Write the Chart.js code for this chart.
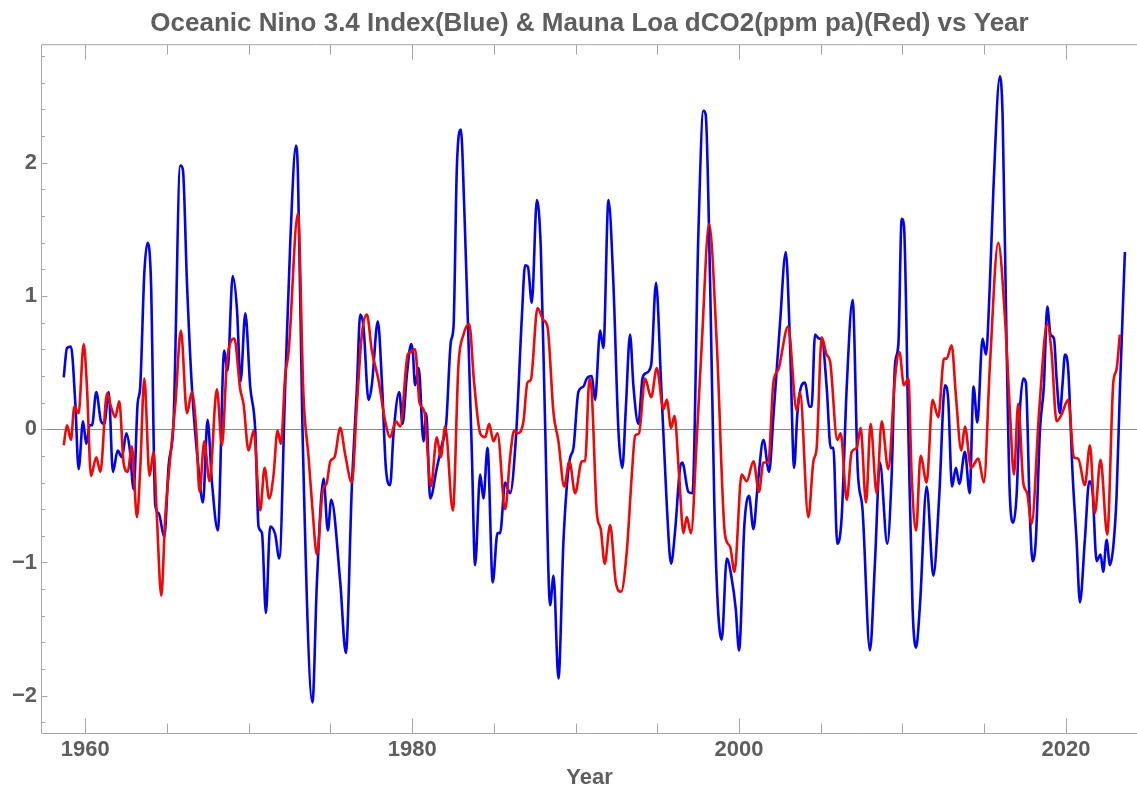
<!DOCTYPE html>
<html>
<head>
<meta charset="utf-8">
<script src="https://cdn.jsdelivr.net/npm/chart.js@4.4.0/dist/chart.umd.min.js"></script>
<style>
  html, body { margin: 0; padding: 0; background: #fff; }
</style>
</head>
<body>
<canvas id="ninoChart" width="1137" height="789"></canvas>
<script>
// Oceanic Nino 3.4 index (blue), turning points
const oniYears = [
  1958.68, 1958.88, 1959.12, 1959.39, 1959.59, 1959.86, 1960.06, 1960.27, 1960.41, 1960.67,
  1960.96, 1961.16, 1961.43, 1961.69, 1961.98, 1962.24, 1962.51, 1962.71, 1962.96, 1963.20,
  1963.36, 1963.61, 1963.81, 1964.02, 1964.28, 1964.49, 1964.83, 1965.10, 1965.40, 1965.81,
  1965.97, 1966.22, 1966.52, 1966.93, 1967.20, 1967.48, 1967.75, 1968.11, 1968.50, 1968.70,
  1969.02, 1969.28, 1969.50, 1969.79, 1970.09, 1970.40, 1970.60, 1970.81, 1971.05, 1971.31,
  1971.62, 1971.87, 1972.23, 1972.54, 1972.89, 1973.01, 1973.29, 1973.90, 1974.17, 1974.58,
  1974.84, 1975.05, 1975.60, 1975.94, 1976.31, 1976.62, 1976.82, 1977.02, 1977.33, 1977.53,
  1977.90, 1978.15, 1978.39, 1978.65, 1978.86, 1979.21, 1979.41, 1979.67, 1979.94, 1980.04,
  1980.18, 1980.40, 1980.69, 1980.86, 1981.10, 1981.51, 1981.81, 1982.08, 1982.37, 1982.53,
  1982.73, 1982.98, 1983.18, 1983.45, 1983.65, 1983.85, 1984.16, 1984.36, 1984.61, 1984.93,
  1985.22, 1985.38, 1985.69, 1985.99, 1986.36, 1986.71, 1986.91, 1987.08, 1987.32, 1987.63,
  1987.87, 1988.13, 1988.44, 1988.65, 1988.95, 1989.26, 1989.62, 1989.87, 1990.17, 1990.48,
  1990.68, 1990.99, 1991.19, 1991.50, 1991.70, 1992.01, 1992.31, 1992.62, 1992.86, 1993.07,
  1993.33, 1993.54, 1993.84, 1994.09, 1994.29, 1994.62, 1994.92, 1995.23, 1995.58, 1995.84,
  1996.09, 1996.39, 1996.53, 1996.90, 1997.15, 1997.51, 1997.82, 1997.96, 1998.23, 1998.49,
  1998.70, 1998.94, 1999.25, 1999.55, 1999.80, 2000.00, 2000.33, 2000.61, 2000.88, 2001.14,
  2001.49, 2001.84, 2002.10, 2002.51, 2002.86, 2003.12, 2003.37, 2003.57, 2003.83, 2004.04,
  2004.30, 2004.44, 2004.65, 2004.91, 2005.06, 2005.36, 2005.61, 2005.77, 2006.01, 2006.28,
  2006.59, 2006.95, 2007.26, 2007.56, 2008.01, 2008.32, 2008.62, 2009.07, 2009.34, 2009.54,
  2009.75, 2009.95, 2010.09, 2010.36, 2010.62, 2010.83, 2011.07, 2011.48, 2011.89, 2012.25,
  2012.60, 2012.80, 2013.03, 2013.27, 2013.48, 2013.82, 2014.11, 2014.35, 2014.58, 2014.90,
  2015.11, 2015.35, 2015.56, 2015.96, 2016.13, 2016.37, 2016.57, 2016.78, 2016.98, 2017.19,
  2017.39, 2017.55, 2017.80, 2017.96, 2018.16, 2018.41, 2018.65, 2018.86, 2019.06, 2019.27,
  2019.43, 2019.63, 2019.80, 2019.94, 2020.14, 2020.41, 2020.65, 2020.86, 2021.16, 2021.43,
  2021.63, 2021.88, 2022.12, 2022.28, 2022.49, 2022.69, 2022.90, 2023.10, 2023.30, 2023.61
];
const oniValues = [
  0.39, 0.61, 0.62, 0.19, -0.30, 0.06, -0.11, 0.03, 0.03, 0.28,
  0.06, 0.04, 0.28, -0.32, -0.16, -0.21, -0.03, -0.14, -0.45, 0.19,
  0.32, 1.17, 1.40, 1.10, -0.57, -0.63, -0.81, -0.27, 0.06, 1.98,
  1.95, 1.10, 0.32, -0.30, -0.55, 0.07, -0.40, -0.76, 0.59, 0.44,
  1.15, 0.90, 0.36, 0.87, 0.32, -0.01, -0.73, -0.78, -1.38, -0.73,
  -0.79, -0.97, 0.32, 1.40, 2.13, 1.92, -0.01, -2.05, -1.15, -0.37,
  -0.76, -0.53, -1.15, -1.68, -0.43, 0.32, 0.86, 0.77, 0.22, 0.33,
  0.81, 0.35, -0.29, -0.42, -0.03, 0.28, 0.04, 0.40, 0.64, 0.58,
  0.33, 0.46, -0.09, 0.12, -0.52, -0.29, -0.12, 0.04, 0.66, 0.77,
  1.95, 2.25, 1.69, 0.64, -0.17, -1.02, -0.34, -0.52, -0.14, -1.15,
  -0.78, -0.78, -0.40, -0.48, -0.04, 0.84, 1.23, 1.22, 0.95, 1.72,
  1.36, 0.06, -1.32, -1.10, -1.87, -0.83, -0.24, -0.14, 0.28, 0.32,
  0.38, 0.40, 0.22, 0.74, 0.61, 1.72, 1.10, -0.01, -0.29, 0.15,
  0.71, 0.32, 0.04, 0.38, 0.42, 0.48, 1.10, 0.35, -0.57, -1.01,
  -0.76, -0.29, -0.25, -0.47, -0.48, 1.46, 2.39, 2.36, 1.10, -0.57,
  -1.32, -1.58, -0.97, -1.12, -1.35, -1.66, -0.71, -0.50, -0.75, -0.42,
  -0.08, -0.32, 0.09, 0.80, 1.33, 0.64, -0.29, 0.12, 0.33, 0.35,
  0.17, 0.17, 0.71, 0.68, 0.68, 0.32, -0.14, -0.14, -0.86, -0.66,
  0.32, 0.97, -0.30, -0.61, -1.66, -0.99, -0.25, -0.86, -0.34, 0.48,
  0.64, 1.58, 1.53, -0.01, -1.35, -1.64, -1.32, -0.43, -1.10, -0.50,
  0.33, 0.22, -0.43, -0.29, -0.41, -0.17, -0.48, 0.32, 0.05, 0.68,
  0.56, 1.10, 1.79, 2.65, 2.34, 0.64, -0.50, -0.70, -0.50, 0.15,
  0.38, 0.35, -0.66, -0.99, -0.83, -0.01, 0.32, 0.92, 0.71, 0.68,
  0.38, 0.12, 0.35, 0.56, 0.45, -0.34, -0.83, -1.30, -0.83, -0.39,
  -0.47, -0.99, -0.94, -1.07, -0.83, -1.02, -0.88, -0.50, 0.28, 1.33
];

// Mauna Loa dCO2 in ppm per year (red), turning points
const co2Years = [
  1958.68, 1958.88, 1959.12, 1959.33, 1959.59, 1959.90, 1960.10, 1960.35, 1960.67, 1960.92,
  1961.33, 1961.57, 1961.83, 1962.08, 1962.34, 1962.59, 1962.85, 1963.16, 1963.36, 1963.61,
  1963.93, 1964.18, 1964.38, 1964.65, 1964.89, 1965.20, 1965.51, 1965.85, 1966.22, 1966.52,
  1966.79, 1966.99, 1967.28, 1967.60, 1968.05, 1968.36, 1968.67, 1969.12, 1969.48, 1969.68,
  1969.99, 1970.30, 1970.70, 1970.97, 1971.25, 1971.52, 1971.76, 1971.97, 1972.23, 1972.44,
  1973.01, 1973.35, 1973.66, 1973.90, 1974.17, 1974.52, 1974.78, 1974.99, 1975.25, 1975.60,
  1975.90, 1976.31, 1976.62, 1976.92, 1977.23, 1977.53, 1977.94, 1978.35, 1978.65, 1979.00,
  1979.27, 1979.73, 1979.94, 1980.18, 1980.45, 1980.75, 1981.14, 1981.51, 1981.75, 1982.02,
  1982.49, 1982.83, 1983.14, 1983.49, 1983.79, 1984.16, 1984.47, 1984.71, 1984.97, 1985.22,
  1985.69, 1985.99, 1986.24, 1986.44, 1986.81, 1987.05, 1987.26, 1987.67, 1988.03, 1988.28,
  1988.65, 1988.95, 1989.30, 1989.62, 1989.97, 1990.38, 1990.58, 1990.85, 1990.99, 1991.30,
  1991.54, 1991.78, 1992.11, 1992.46, 1992.78, 1993.13, 1993.44, 1993.64, 1993.88, 1994.25,
  1994.62, 1994.97, 1995.37, 1995.58, 1995.84, 1996.05, 1996.33, 1996.60, 1996.80, 1997.06,
  1997.41, 1997.72, 1998.17, 1998.64, 1999.14, 1999.45, 1999.72, 2000.16, 2000.47, 2000.88,
  2001.22, 2001.49, 2001.79, 2002.10, 2002.41, 2003.00, 2003.53, 2003.73, 2004.24, 2004.55,
  2004.75, 2005.06, 2005.36, 2005.57, 2006.01, 2006.22, 2006.59, 2006.89, 2007.20, 2007.44,
  2007.77, 2008.05, 2008.42, 2008.73, 2009.13, 2009.54, 2009.81, 2010.09, 2010.36, 2010.56,
  2010.83, 2011.11, 2011.48, 2011.84, 2012.19, 2012.54, 2012.70, 2013.01, 2013.27, 2013.60,
  2013.82, 2014.20, 2014.64, 2014.98, 2015.35, 2015.86, 2016.27, 2016.58, 2016.82, 2017.08,
  2017.39, 2017.63, 2017.90, 2018.37, 2018.86, 2019.12, 2019.43, 2019.73, 2020.14, 2020.49,
  2020.75, 2021.16, 2021.47, 2021.77, 2022.12, 2022.53, 2022.90, 2023.10, 2023.30
];
const co2Values = [
  -0.12, 0.03, -0.08, 0.17, 0.12, 0.64, 0.32, -0.35, -0.21, -0.32,
  0.27, 0.17, 0.09, 0.21, -0.25, -0.32, -0.13, -0.66, -0.30, 0.38,
  -0.35, -0.17, -0.66, -1.25, -0.66, -0.21, 0.19, 0.74, 0.12, 0.28,
  -0.01, -0.47, -0.09, -0.39, 0.30, -0.12, 0.51, 0.68, 0.30, 0.19,
  -0.16, -0.01, -0.61, -0.29, -0.52, -0.34, -0.01, -0.11, 0.40, 0.58,
  1.62, 0.25, -0.21, -0.60, -0.94, -0.47, -0.40, -0.24, -0.21, 0.01,
  -0.19, -0.40, 0.19, 0.71, 0.86, 0.59, 0.37, 0.06, -0.06, 0.06,
  0.02, 0.56, 0.58, 0.60, 0.20, 0.13, -0.43, -0.06, -0.21, 0.02,
  -0.61, 0.48, 0.71, 0.79, 0.35, -0.03, -0.06, 0.04, -0.09, -0.03,
  -0.60, -0.21, -0.01, -0.03, 0.06, 0.35, 0.37, 0.91, 0.82, 0.77,
  0.12, -0.09, -0.43, -0.24, -0.48, -0.24, -0.24, 0.38, 0.27, -0.63,
  -0.75, -1.01, -0.72, -1.15, -1.22, -0.92, -0.34, -0.05, -0.03, 0.38,
  0.24, 0.46, 0.15, 0.22, 0.01, 0.10, -0.34, -0.78, -0.66, -0.78,
  -0.08, 0.64, 1.54, 0.64, -0.79, -0.88, -1.07, -0.34, -0.39, -0.24,
  -0.47, -0.25, -0.25, 0.35, 0.45, 0.77, 0.14, 0.28, -0.66, -0.24,
  -0.14, 0.69, 0.56, 0.51, -0.08, -0.03, -0.53, -0.17, -0.14, 0.01,
  -0.55, 0.04, -0.48, 0.06, -0.30, 0.38, 0.58, 0.33, 0.38, -0.34,
  -0.76, -0.20, -0.40, 0.22, 0.09, 0.53, 0.53, 0.63, 0.25, -0.16,
  0.02, -0.29, -0.22, -0.40, 0.48, 1.40, 0.84, 0.12, -0.34, 0.19,
  -0.40, -0.48, -0.71, 0.15, 0.79, 0.58, 0.06, 0.11, 0.22, -0.21,
  -0.22, -0.42, -0.12, -0.63, -0.23, -0.79, 0.35, 0.45, 0.71
];

const xTicks = [1960, 1980, 2000, 2020];
const xMinorTicks = [1960, 1965, 1970, 1975, 1980, 1985, 1990, 1995, 2000, 2005, 2010, 2015, 2020];
const yTicks = [-2, -1, 0, 1, 2];

const FONT = '"Liberation Sans", Arial, sans-serif';
const TEXT_GREY = '#5e5e5e';
const FRAME_GREY = '#a6a6a6';

// Mathematica style frame: inward ticks, no grid, axis line at zero
const framePlugin = {
  id: 'frame',
  beforeDatasetsDraw(chart) {
    const { ctx, chartArea: a, scales: { y } } = chart;
    const y0 = Math.round(y.getPixelForValue(0)) + 0.5;
    ctx.save();
    ctx.strokeStyle = '#8c8c8c';
    ctx.lineWidth = 1;
    ctx.beginPath();
    ctx.moveTo(a.left, y0);
    ctx.lineTo(a.right, y0);
    ctx.stroke();
    ctx.restore();
  },
  afterDatasetsDraw(chart) {
    const { ctx, chartArea: a, scales: { x, y } } = chart;
    const L = a.left - 0.5, T = a.top + 0.5, B = a.bottom + 0.5;
    ctx.save();
    ctx.strokeStyle = FRAME_GREY;
    ctx.lineWidth = 1;
    ctx.beginPath();
    ctx.moveTo(a.right, T);
    ctx.lineTo(L, T);
    ctx.lineTo(L, B);
    ctx.lineTo(a.right, B);

    xMinorTicks.forEach(v => {
      const px = Math.round(x.getPixelForValue(v)) + 0.5;
      const len = xTicks.includes(v) ? 15 : 10;
      ctx.moveTo(px, B); ctx.lineTo(px, B - len);
      ctx.moveTo(px, T); ctx.lineTo(px, T + len);
    });

    for (let k = -11; k <= 14; k++) {
      const v = k / 5;
      const py = Math.round(y.getPixelForValue(v)) + 0.5;
      const len = k % 5 === 0 ? 6 : 3.5;
      ctx.moveTo(L, py); ctx.lineTo(L + len, py);
    }
    ctx.stroke();
    ctx.restore();
  }
};

const ctx = document.getElementById('ninoChart').getContext('2d');

new Chart(ctx, {
  type: 'line',
  data: {
    datasets: [
      {
        label: 'Mauna Loa dCO2',
        data: co2Years.map((yr, i) => ({ x: yr, y: co2Values[i] })),
        borderColor: 'rgb(238, 8, 8)',
        borderWidth: 2.6,
        pointRadius: 0,
        cubicInterpolationMode: 'monotone',
        order: 0
      },
      {
        label: 'Oceanic Nino 3.4',
        data: oniYears.map((yr, i) => ({ x: yr, y: oniValues[i] })),
        borderColor: 'rgb(4, 4, 232)',
        borderWidth: 2.6,
        pointRadius: 0,
        cubicInterpolationMode: 'monotone',
        order: 1
      }
    ]
  },
  options: {
    responsive: false,
    animation: false,
    devicePixelRatio: 1,
    layout: { padding: 0 },
    plugins: {
      legend: { display: false },
      tooltip: { enabled: false },
      title: {
        display: true,
        fullSize: false,
        text: 'Oceanic Nino 3.4 Index(Blue) & Mauna Loa dCO2(ppm pa)(Red) vs Year',
        color: TEXT_GREY,
        font: { family: FONT, size: 26, weight: 'bold', lineHeight: 1.2 },
        padding: { top: 8, bottom: 5 }
      }
    },
    scales: {
      x: {
        type: 'linear',
        min: 1957.35,
        max: 2024.35,
        grid: { display: false, drawTicks: false },
        border: { display: false },
        afterBuildTicks: scale => { scale.ticks = xTicks.map(v => ({ value: v })); },
        afterFit: scale => { scale.height = 56; },
        ticks: {
          color: TEXT_GREY,
          padding: 4,
          maxRotation: 0,
          font: { family: FONT, size: 22, weight: 'bold', lineHeight: 1.2 },
          callback: v => String(v)
        },
        title: {
          display: true,
          text: 'Year',
          color: TEXT_GREY,
          padding: 0,
          font: { family: FONT, size: 22, weight: 'bold', lineHeight: 1 }
        }
      },
      y: {
        min: -2.28,
        max: 2.89,
        grid: { display: false, drawTicks: false },
        border: { display: false },
        afterBuildTicks: scale => { scale.ticks = yTicks.map(v => ({ value: v })); },
        afterFit: scale => { scale.width = 42; },
        ticks: {
          color: TEXT_GREY,
          padding: 5,
          font: { family: FONT, size: 22, weight: 'bold', lineHeight: 1.2 },
          callback: v => String(v).replace('-', '\u2212')
        }
      }
    }
  },
  plugins: [framePlugin]
});
</script>
</body>
</html>
